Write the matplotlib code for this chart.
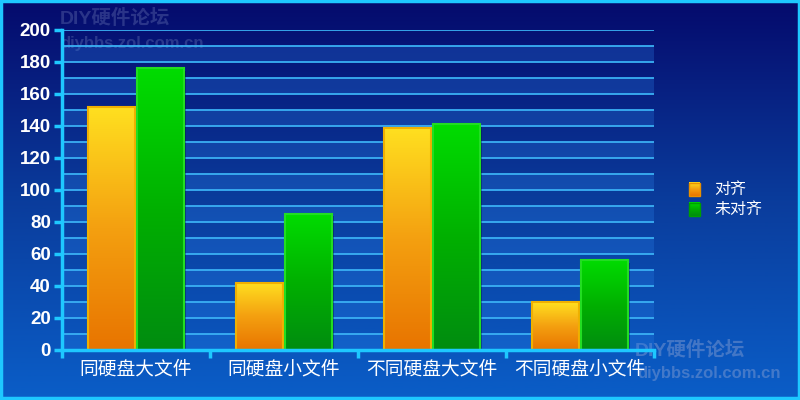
import numpy as np
import matplotlib.pyplot as plt
from matplotlib.colors import LinearSegmentedColormap
from matplotlib.patches import Rectangle

plt.rcParams['font.family'] = ['Noto Sans CJK SC', 'DejaVu Sans']

categories = ['同硬盘大文件', '同硬盘小文件', '不同硬盘大文件', '不同硬盘小文件']
aligned = [152, 42, 139, 30]
unaligned = [176, 85, 141, 56]
series_names = ['对齐', '未对齐']

fig = plt.figure(figsize=(8, 4), dpi=100)

# background gradient over the whole figure
bg = fig.add_axes([0, 0, 1, 1], zorder=-10)
bg_cmap = LinearSegmentedColormap.from_list('bg', ['#0a5ec8', '#0a3c9c', '#050a6c'])
bg.imshow(np.linspace(0, 1, 256).reshape(-1, 1), aspect='auto', cmap=bg_cmap,
          origin='lower', extent=[0, 1, 0, 1])
bg.set_xlim(0, 1)
bg.set_ylim(0, 1)
bg.axis('off')
bg.add_patch(Rectangle((0.001, 0.004), 0.998, 0.993, fill=False,
                       edgecolor='#1ec8ff', linewidth=2.5,
                       transform=bg.transAxes))
# watermarks
wm = dict(color='#9aaad6', fontweight='bold',
          family=['Liberation Sans', 'Noto Sans CJK SC'])
bg.text(0.075, 0.94, 'DIY硬件论坛', fontsize=14, alpha=0.25, **wm)
bg.text(0.075, 0.88, 'diybbs.zol.com.cn', fontsize=12, alpha=0.25, **wm)
bg.text(0.793, 0.11, 'DIY硬件论坛', fontsize=14, alpha=0.4, **wm)
bg.text(0.797, 0.055, 'diybbs.zol.com.cn', fontsize=12, alpha=0.4, **wm)

ax = fig.add_axes([0.0775, 0.125, 0.74, 0.8])
ax.set_facecolor('none')
ax.set_xlim(0, len(categories))
ax.set_ylim(0, 200)

# alternating bands and grid lines
for i, y0 in enumerate(range(0, 200, 10)):
    if i % 2 == 0:
        ax.axhspan(y0, y0 + 10, color='#2a80e8', alpha=0.28, lw=0, zorder=0)
    ax.axhline(y0 + 10, color='#3ab0f4', lw=1.3, zorder=1)

orange_cmap = LinearSegmentedColormap.from_list('o', ['#e87400', '#f4a010', '#ffe020'])
green_cmap = LinearSegmentedColormap.from_list('g', ['#008c10', '#00b000', '#00dc00'])

width = 0.32
x = np.arange(len(categories)) + 0.5


def gradient_bars(xs, heights, cmap, edge):
    bars = ax.bar(xs, heights, width, facecolor='none', edgecolor=edge,
                  linewidth=1.5, zorder=4)
    grad = np.linspace(0, 1, 256).reshape(-1, 1)
    for b in bars:
        x0, y0 = b.get_x(), b.get_y()
        w, h = b.get_width(), b.get_height()
        im = ax.imshow(grad, aspect='auto', cmap=cmap, origin='lower',
                       extent=[x0, x0 + w, y0, y0 + h], zorder=3)
        im.set_clip_path(b)
        # drop shadow
        ax.add_patch(Rectangle((x0 + 0.015, y0), w, h - 1.5, color='#000030',
                               alpha=0.35, lw=0, zorder=2))
    return bars


gradient_bars(x - width / 2 - 0.005, aligned, orange_cmap, '#f0b000')
gradient_bars(x + width / 2 + 0.005, unaligned, green_cmap, '#22dd22')
ax.set_xlim(0, len(categories))
ax.set_ylim(0, 200)

for s in ['top', 'right']:
    ax.spines[s].set_visible(False)
for s in ['left', 'bottom']:
    ax.spines[s].set_color('#1ec8ff')
    ax.spines[s].set_linewidth(2.5)
    ax.spines[s].set_zorder(6)

ax.set_yticks(range(0, 201, 20))
ax.tick_params(axis='y', colors='#1ec8ff', length=6, width=2.5, labelcolor='white',
               labelsize=13.5, pad=2)
for lab in ax.get_yticklabels():
    lab.set_fontweight('bold')
    lab.set_family(['Liberation Sans', 'DejaVu Sans'])

ax.set_xticks(range(len(categories) + 1))
ax.set_xticklabels([])
ax.set_xticks(x, minor=True)
ax.set_xticklabels(categories, minor=True)
ax.tick_params(axis='x', which='major', colors='#1ec8ff', length=6, width=2.5)
ax.tick_params(axis='x', which='minor', length=0, labelcolor='white',
               labelsize=13.5, pad=6)

# legend
leg_ax = fig.add_axes([0.855, 0.44, 0.13, 0.12])
leg_ax.axis('off')
leg_ax.set_xlim(0, 1)
leg_ax.set_ylim(0, 1)
for i, (name, cm, ec) in enumerate(zip(series_names, [orange_cmap, green_cmap],
                                       ['#e89000', '#00a000'])):
    yy = 0.72 - i * 0.42
    leg_ax.imshow(np.linspace(0, 1, 64).reshape(-1, 1), aspect='auto', cmap=cm,
                  origin='lower', extent=[0.05, 0.15, yy - 0.14, yy + 0.14])
    leg_ax.add_patch(Rectangle((0.05, yy - 0.14), 0.1, 0.28, fill=False,
                               edgecolor=ec, lw=1))
    leg_ax.text(0.29, yy, name, color='white', fontsize=11.5, va='center')
leg_ax.set_xlim(0, 1)
leg_ax.set_ylim(0, 1)

fig.savefig('out.png', dpi=100)
